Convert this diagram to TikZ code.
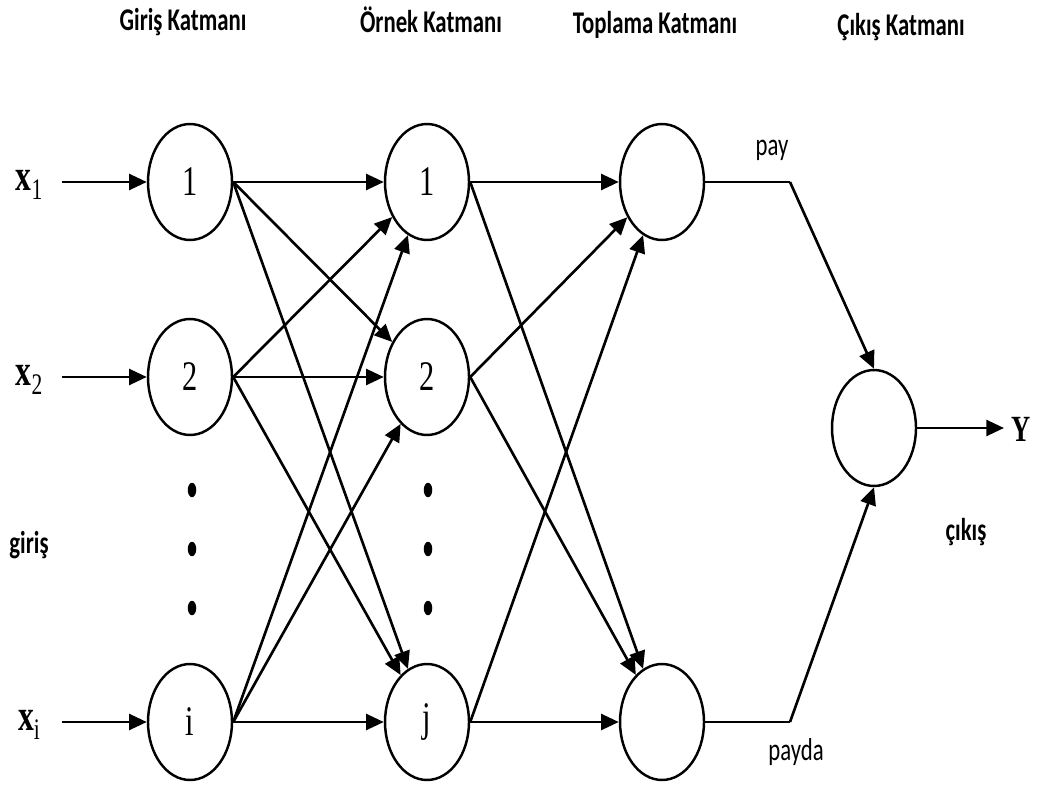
\documentclass[tikz,border=0pt]{standalone}
\usepackage{fontspec}
\usetikzlibrary{arrows.meta,shapes.geometric}

\newfontfamily\hdrfont[FakeStretch=0.72]{Carlito}
\newfontfamily\numfont[FakeStretch=0.72]{Liberation Serif}
\newcommand{\xin}[1]{{\bfseries x}\raisebox{-5pt}{\fontsize{17}{17}\selectfont #1}}

\tikzset{
  neuron/.style={draw, ellipse, line width=1.4pt, minimum width=1.68cm,
    minimum height=2.32cm, inner sep=0pt, font=\numfont\fontsize{24}{24}\selectfont},
  link/.style={line width=1.5pt, -{Triangle[length=10pt,width=9pt]}},
  wire/.style={line width=1.5pt},
  hdr/.style={font=\hdrfont\bfseries\fontsize{18}{18}\selectfont},
  lbl/.style={font=\hdrfont\fontsize{18}{18}\selectfont},
  xlbl/.style={font=\numfont\fontsize{25}{25}\selectfont},
  dotmark/.style={fill, ellipse, minimum width=0.17cm, minimum height=0.29cm, inner sep=0pt}
}

\begin{document}
\begin{tikzpicture}[x=0.02cm,y=-0.02cm]

\useasboundingbox (0,0) rectangle (1041,787) ;

\node[hdr] (h_in)  at (183,22) {Giriş Katmanı} ;
\node[hdr] (h_pt)  at (431,20) {Örnek Katmanı} ;
\node[hdr] (h_sum) at (655,25) {Toplama Katmanı} ;
\node[hdr] (h_out) at (901,27) {Çıkış Katmanı} ;

\node[neuron] (in1) at (190,182) {1} ;
\node[neuron] (in2) at (190,377) {2} ;
\node[neuron] (ini) at (190,722) {i} ;

\node[neuron] (pt1) at (427,182) {1} ;
\node[neuron] (pt2) at (427,377) {2} ;
\node[neuron] (ptj) at (427,722) {j} ;

\node[neuron] (sum1) at (662,182) {} ;
\node[neuron] (sum2) at (662,722) {} ;

\node[neuron] (out) at (874,428) {} ;

\node[dotmark] (d1) at (192,490) {} ;
\node[dotmark] (d2) at (192,549) {} ;
\node[dotmark] (d3) at (192,608) {} ;
\node[dotmark] (d4) at (428,490) {} ;
\node[dotmark] (d5) at (428,549) {} ;
\node[dotmark] (d6) at (428,608) {} ;

\node[xlbl] (x1) at (29,185) {\xin{1}} ;
\node[xlbl] (x2) at (29,380) {\xin{2}} ;
\node[xlbl] (xi) at (29,725) {\xin{i}} ;
\node[xlbl, font=\numfont\bfseries\fontsize{21}{21}\selectfont] (y) at (1021,429) {Y} ;

\node[lbl, font=\hdrfont\bfseries\fontsize{18}{18}\selectfont] (giris) at (29,545) {giriş} ;
\node[lbl, font=\hdrfont\bfseries\fontsize{18}{18}\selectfont] (cikis) at (966,532) {çıkış} ;
\node[lbl] (pay) at (772,150) {pay} ;
\node[lbl] (payda) at (796,752) {payda} ;

\coordinate (a1) at (62,182) ;
\coordinate (a2) at (62,377) ;
\coordinate (ai) at (62,722) ;
\coordinate (ay) at (1004,428) ;
\coordinate (c1) at (790,182) ;
\coordinate (c2) at (790,722) ;

\draw[link] (a1) -- (in1) ;
\draw[link] (a2) -- (in2) ;
\draw[link] (ai) -- (ini) ;

\draw[link] (in1.east) -- (pt1) ;
\draw[link] (in1.east) -- (pt2) ;
\draw[link] (in1.east) -- (ptj) ;
\draw[link] (in2.east) -- (pt1) ;
\draw[link] (in2.east) -- (pt2) ;
\draw[link] (in2.east) -- (ptj) ;
\draw[link] (ini.east) -- (pt1) ;
\draw[link] (ini.east) -- (pt2) ;
\draw[link] (ini.east) -- (ptj) ;

\draw[link] (pt1.east) -- (sum1) ;
\draw[link] (pt1.east) -- (sum2) ;
\draw[link] (pt2.east) -- (sum1) ;
\draw[link] (pt2.east) -- (sum2) ;
\draw[link] (ptj.east) -- (sum1) ;
\draw[link] (ptj.east) -- (sum2) ;

\draw[wire] (sum1.east) -- (c1) ;
\draw[link] (c1) -- (out.north) ;
\draw[wire] (sum2.east) -- (c2) ;
\draw[link] (c2) -- (out.south) ;

\draw[link] (out.east) -- (ay) ;

\end{tikzpicture}
\end{document}
